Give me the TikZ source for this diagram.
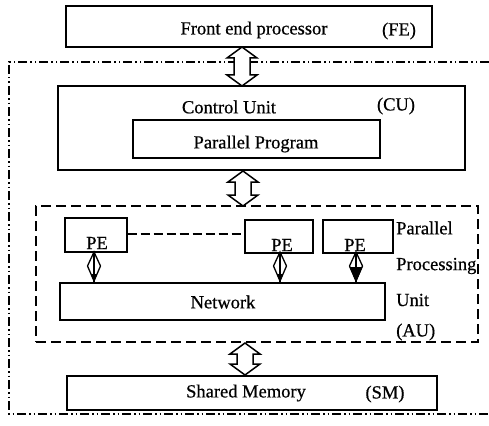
\documentclass[tikz,border=0pt]{standalone}
\usepackage{fontspec}
\setmainfont{Liberation Serif}[FakeBold=0.6]
\newfontfamily\scanfont{Liberation Serif}[FakeBold=0.6]
\usetikzlibrary{calc}
\begin{document}
\begin{tikzpicture}[x=1pt,y=-1pt,
  box/.style={draw, line width=1.4pt, inner sep=0pt},
  lbl/.style={font=\scanfont\fontsize{18.5}{20}\selectfont, inner sep=0pt},
  fat/.style={draw, line width=1.5pt, fill=white, line join=miter},
  link/.style={line width=1.3pt},
  outer/.style={line width=1.4pt, dash pattern=on 9pt off 3pt on 1.5pt off 3pt on 1.5pt off 3pt},
  aubox/.style={draw, line width=1.4pt, dash pattern=on 10pt off 5pt, inner sep=0pt}]
\useasboundingbox (0,0) rectangle (489,425);
% outer dash-dot frame
\coordinate (otr) at (489,62);
\coordinate (otl) at (9,62);
\coordinate (obl) at (9,414);
\coordinate (obr) at (489,414);
\draw[outer] (otr) -- (otl) -- (obl) -- (obr);
% boxes
\node[box, minimum width=366pt, minimum height=41pt] (fe) at (249,26.5) {};
\node[box, minimum width=407pt, minimum height=84pt] (cu) at (261.5,128) {};
\node[box, minimum width=247pt, minimum height=38pt] (pp) at (256.5,139) {};
\node[aubox, minimum width=442pt, minimum height=136pt] (au) at (257,274) {};
\node[box, minimum width=62pt, minimum height=34pt] (pe1) at (96,235) {};
\node[box, minimum width=68pt, minimum height=33pt] (pe2) at (279,236.5) {};
\node[box, minimum width=70pt, minimum height=33pt] (pe3) at (358,236.5) {};
\node[box, minimum width=325pt, minimum height=37pt] (net) at (222.5,301.5) {};
\node[box, minimum width=370pt, minimum height=34pt] (sm) at (252,393) {};
% texts
\node[lbl] (tfe) at (254,30) {Front end processor};
\node[lbl] (tfe2) at (399,31) {(FE)};
\node[lbl] (tcu) at (229,107) {Control Unit};
\node[lbl] (tcu2) at (396,106) {(CU)};
\node[lbl] (tpp) at (256,144) {Parallel Program};
\node[lbl] (tpe1) at (97,243) {PE};
\node[lbl] (tpe2) at (282,245) {PE};
\node[lbl] (tpe3) at (355,245) {PE};
\node[lbl] (tnet) at (223,302) {Network};
\node[lbl, anchor=west] (ta1) at (396,228) {Parallel};
\node[lbl, anchor=west] (ta2) at (396,266) {Processing};
\node[lbl, anchor=west] (ta3) at (396,300) {Unit};
\node[lbl, anchor=west] (ta4) at (396,332) {(AU)};
\node[lbl] (tsm) at (246,393) {Shared Memory};
\node[lbl] (tsm2) at (385,394) {(SM)};
% dashed link between PEs
\draw[link, dash pattern=on 9pt off 4pt] (pe1.east |- 0,234) -- (pe2.west |- 0,234);
% fat double arrows
\newcommand\fatarr[3]{\draw[fat] (#1,#2) -- (#1+15,#2+11) -- (#1+8,#2+11) -- (#1+8,#3-11) -- (#1+15,#3-11) -- (#1,#3) -- (#1-15,#3-11) -- (#1-8,#3-11) -- (#1-8,#2+11) -- (#1-15,#2+11) -- cycle;}
\fatarr{242}{47}{86}
\fatarr{243}{171}{206}
\fatarr{245}{343}{375}
% diamond connectors PE -> network
\newcommand\dmd[1]{\draw[link, fill=white] (#1,252) -- (#1+6.5,266) -- (#1,281) -- (#1-6.5,266) -- cycle; \draw[link] (#1,252) -- (#1,283); \fill (#1-3,274) -- (#1,282) -- (#1+3,274) -- cycle;}
\dmd{94}
\dmd{280}
\dmd{356}
\fill (349.5,267) -- (356,282) -- (362.5,267) -- cycle;
\end{tikzpicture}
\end{document}
